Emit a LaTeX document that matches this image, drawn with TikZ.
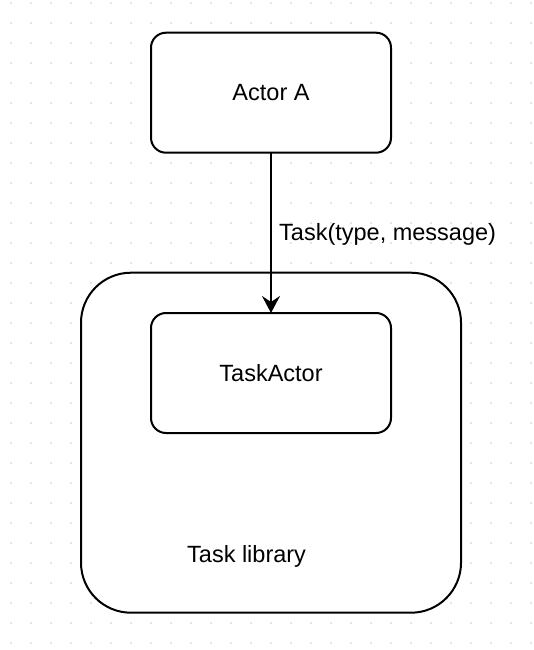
\documentclass[tikz,border=0pt]{standalone}
\usepackage{fontspec}
\setmainfont{Liberation Sans}
\usetikzlibrary{arrows.meta}
\begin{document}
\begin{tikzpicture}[x=1pt,y=-1pt,
  box/.style={draw=black, line width=2pt, fill=white, rounded corners=15pt, minimum width=240pt, minimum height=120pt, outer sep=0pt, font=\fontsize{23.5}{28}\selectfont},
  container/.style={draw=black, line width=2pt, fill=white, rounded corners=50pt, minimum width=380pt, minimum height=340pt, outer sep=0pt},
  txt/.style={font=\fontsize{23.5}{28}\selectfont, inner sep=0pt},
  conn/.style={line width=2pt, -{Stealth[length=17pt, width=18pt, inset=6pt]}},
  griddot/.style={fill=black!20}
]
\useasboundingbox (0,0) rectangle (534,650);
\fill[white] (0,0) rectangle (534,650);
\foreach \i in {0,...,26} {
  \foreach \j in {0,...,32} {
    \fill[griddot] (11+20*\i, 3+20*\j) circle (0.8pt);
  }
}
\node[container] (lib) at (271,442.7) {};
\node[txt, anchor=base west] (libtext) at (187,562) {Task library};
\node[box] (task) at (271,373) {TaskActor};
\node[box] (actor) at (271,92.7) {Actor A};
\draw[conn] (actor.south) -- (task.north);
\node[txt, anchor=base west] (lbl) at (279,240) {Task(type, message)};
\end{tikzpicture}
\end{document}
